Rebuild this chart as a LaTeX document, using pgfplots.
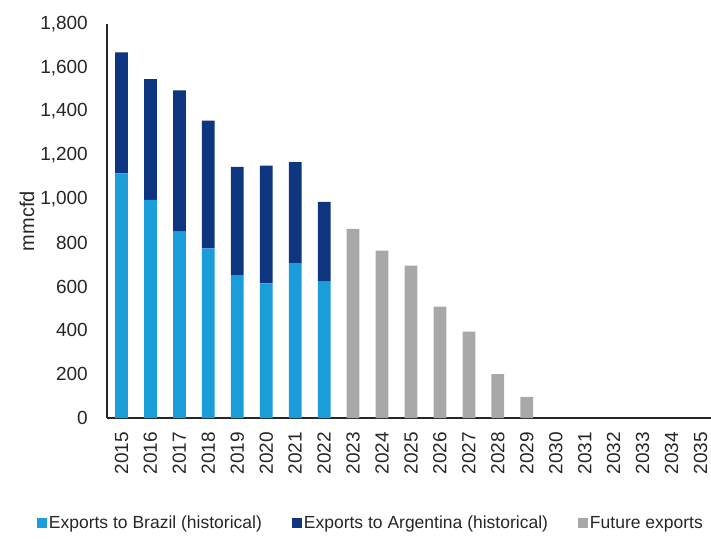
\documentclass[border=0pt]{standalone}
\usepackage{pgfplots}
\pgfplotsset{compat=1.18}
\usepackage{fontspec}
\setmainfont{Liberation Sans}

\definecolor{brazil}{HTML}{1A9DD9}
\definecolor{argentina}{HTML}{0D3580}
\definecolor{future}{HTML}{A8A8A8}

\begin{document}
\begin{tikzpicture}
\path[use as bounding box] (-107bp,-123bp) rectangle (604bp,418bp);
\begin{axis}[
    at={(0,0)}, anchor=south west,
    scale only axis, width=608bp, height=394bp,
    ybar stacked, bar width=0.44,
    xmin=-0.5, xmax=20.5,
    ymin=0, ymax=1800,
    ytick={0,200,...,1800},
    scaled y ticks=false,
    /pgf/number format/assume math mode=true,
    /pgf/number format/1000 sep={,},
    xtick={0,...,20},
    xticklabels={2015,2016,2017,2018,2019,2020,2021,2022,2023,2024,2025,2026,2027,2028,2029,2030,2031,2032,2033,2034,2035},
    axis x line=bottom, axis y line=left,
    axis line style={-, line width=1.1bp, black!85},
    major tick length=0pt,
    tick label style={font=\fontsize{19bp}{22bp}\selectfont, text=black!85},
    xticklabel style={rotate=90, anchor=east, inner sep=0pt},
    yticklabel style={inner sep=0pt},
    xticklabel shift=14bp,
    yticklabel shift=19bp,
    ylabel={mmcfd},
    ylabel style={at={(axis description cs:-0.1316,0.5)}, rotate=0, anchor=center,
                  font=\fontsize{20bp}{24bp}\selectfont, text=black!85},
    legend columns=3,
    legend image code/.code={\fill[#1] (0bp,-5bp) rectangle (10bp,5bp);},
    legend style={at={(0.434,-0.266)}, anchor=center, draw=none, fill=none,
                  font=\fontsize{17.5bp}{21bp}\selectfont, text=black!85,
                  /tikz/every even column/.append style={column sep=28bp},
                  /tikz/every odd column/.append style={column sep=0bp}},
]
% Exports to Brazil (historical)
\addplot[fill=brazil, draw=none] coordinates {
 (0,1118) (1,996) (2,851) (3,775) (4,653) (5,615) (6,707) (7,623)
 (8,0) (9,0) (10,0) (11,0) (12,0) (13,0) (14,0)
 (15,0) (16,0) (17,0) (18,0) (19,0) (20,0)
};
\addlegendentry{Exports to Brazil (historical)}
% Exports to Argentina (historical)
\addplot[fill=argentina, draw=none] coordinates {
 (0,552) (1,552) (2,646) (3,584) (4,494) (5,538) (6,462) (7,364)
 (8,0) (9,0) (10,0) (11,0) (12,0) (13,0) (14,0)
 (15,0) (16,0) (17,0) (18,0) (19,0) (20,0)
};
\addlegendentry{Exports to Argentina (historical)}
% Future exports
\addplot[fill=future, draw=none] coordinates {
 (0,0) (1,0) (2,0) (3,0) (4,0) (5,0) (6,0) (7,0)
 (8,864) (9,765) (10,696) (11,509) (12,395) (13,200) (14,97)
 (15,0) (16,0) (17,0) (18,0) (19,0) (20,0)
};
\addlegendentry{Future exports}
\end{axis}
\end{tikzpicture}
\end{document}
